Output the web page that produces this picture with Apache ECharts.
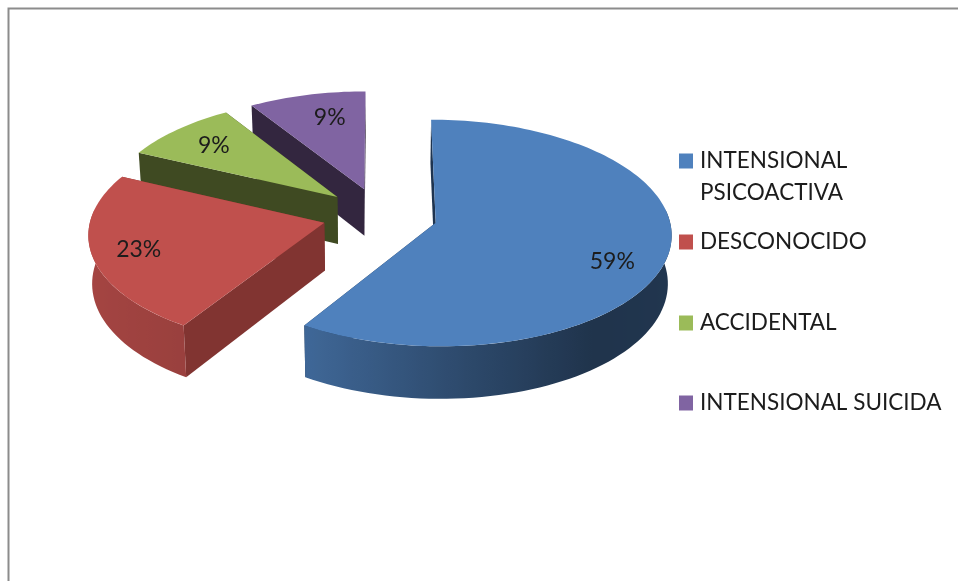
<!DOCTYPE html>
<html>
<head>
<meta charset="utf-8">
<style>html,body{margin:0;padding:0;background:#fff}#c{width:958px;height:581px}</style>
<script src="https://cdn.jsdelivr.net/npm/echarts@6/dist/echarts.min.js"></script>
</head>
<body>
<div id="c"></div>
<script>
const categories = ['INTENSIONAL\nPSICOACTIVA', 'DESCONOCIDO', 'ACCIDENTAL', 'INTENSIONAL SUICIDA'];
const values = [59, 23, 9, 9];
const colors = ['#4f81bd', '#c0504d', '#9bbb59', '#8064a2'];
const wallColors = ['#1e3450', '#813431', '#3f4a22', '#33263f'];
const labelShift = [[1, 15], [-10, 3], [0, 0], [10, 1]];

const total = values.reduce((a, b) => a + b, 0);
const CX = 380, CY = 215, RX = 233, RY = 111, DEPTH = 47.5, EXPLODE = 0.2475, PERSP = 0.09, LABEL_R = 0.76, BOTTOM_SCALE = 0.987;

function sliceAngles(i) {
  const before = values.slice(0, i).reduce((a, b) => a + b, 0);
  return [before / total * 2 * Math.PI, (before + values[i]) / total * 2 * Math.PI];
}
// unit-disc point (r, theta) of slice i, projected on the top (down=0) or bottom (down=1) plane
function project(i, r, th, down) {
  const [a0, a1] = sliceAngles(i);
  const b = (a0 + a1) / 2;
  const u = r * Math.sin(th) + EXPLODE * Math.sin(b);
  const v = -r * Math.cos(th) - EXPLODE * Math.cos(b);
  const s = 1 / (1 - PERSP * v);
  const k = down ? BOTTOM_SCALE : 1;
  return [CX + RX * u * s * k, CY + RY * v * s + (down ? DEPTH * s : 0)];
}
function shade(hex, f) {
  const n = parseInt(hex.slice(1), 16);
  const c = [n >> 16, (n >> 8) & 255, n & 255].map(x => Math.round(x * f));
  return 'rgb(' + c.join(',') + ')';
}
function sideShade(th) {
  const n = Math.sin(th);
  const pts = [[-1, .86], [-.53, .8], [0, .6], [.6, .4], [1, .42]];
  for (let k = 1; k < pts.length; k++) {
    if (n <= pts[k][0]) {
      const t = (n - pts[k - 1][0]) / (pts[k][0] - pts[k - 1][0]);
      return pts[k - 1][1] + t * (pts[k][1] - pts[k - 1][1]);
    }
  }
  return .42;
}
function renderSlice(i) {
  const [a0, a1] = sliceAngles(i);
  const children = [];
  const wall = (th) => ({
    type: 'polygon',
    shape: { points: [project(i, 0, th, 0), project(i, 1, th, 0), project(i, 1, th, 1), project(i, 0, th, 1)] },
    style: { fill: wallColors[i] }
  });
  children.push(wall(a1), wall(a0));

  // outer rim: one polygon over its front part, shaded by a horizontal gradient
  const t0 = Math.max(a0, Math.PI / 2 - 0.12), t1 = Math.min(a1, 3 * Math.PI / 2 + 0.12);
  if (t1 > t0) {
    const n = Math.ceil((t1 - t0) / (Math.PI / 90));
    const upper = [], lower = [], samples = [];
    for (let k = 0; k <= n; k++) {
      const th = t0 + (t1 - t0) * k / n;
      upper.push(project(i, 1, th, 0));
      lower.push(project(i, 1, th, 1));
      if (th >= Math.PI / 2 && th <= 3 * Math.PI / 2) samples.push([project(i, 1, th, 0)[0], sideShade(th)]);
    }
    const xs = upper.concat(lower).map(p => p[0]);
    const xMin = Math.min(...xs), xMax = Math.max(...xs);
    samples.sort((a, b) => a[0] - b[0]);
    const colorStops = samples.map(([x, f]) => ({ offset: (x - xMin) / (xMax - xMin), color: shade(colors[i], f) }));
    children.push({
      type: 'polygon',
      shape: { points: upper.concat(lower.reverse()) },
      style: { fill: new echarts.graphic.LinearGradient(xMin, 0, xMax, 0, colorStops, true) }
    });
  }

  const steps = Math.ceil((a1 - a0) / (Math.PI / 120));
  const top = [project(i, 0, a0, 0)];
  for (let k = 0; k <= steps; k++) top.push(project(i, 1, a0 + (a1 - a0) * k / steps, 0));
  children.push({ type: 'polygon', shape: { points: top }, style: { fill: colors[i] } });

  const lp = project(i, LABEL_R, (a0 + a1) / 2, 0);
  children.push({
    type: 'text',
    style: {
      x: lp[0] + labelShift[i][0], y: lp[1] + labelShift[i][1], text: values[i] + '%',
      fill: '#1c1c1c', font: '23px Lato', textAlign: 'center', textVerticalAlign: 'middle'
    }
  });
  return { type: 'group', children };
}

const order = [3, 2, 1, 0];
const series = order.map(i => ({
  type: 'custom',
  name: categories[i],
  coordinateSystem: 'none',
  itemStyle: { color: colors[i] },
  data: [[values[i]]],
  renderItem: () => renderSlice(i)
}));
const legendTops = [108, 221, 302, 382];
const legend = categories.map((name, i) => ({
  data: [{ name, icon: 'rect' }],
  left: 674,
  top: legendTops[i],
  itemWidth: 14,
  itemHeight: 15,
  itemGap: 0,
  selectedMode: false,
  formatter: n => n.includes('\n') ? '\n' + n : n,
  textStyle: { fontFamily: 'Lato', fontSize: 22.5, color: '#1c1c1c', lineHeight: 32, padding: [0, 0, 0, 2] }
}));

const chart = echarts.init(document.getElementById('c'), null, { renderer: 'canvas' });
chart.setOption({
  animation: false,
  backgroundColor: '#fff',
  legend,
  graphic: [{
    type: 'rect', left: 6, top: 6, z: -1,
    shape: { width: 1100, height: 800 },
    style: { fill: 'none', stroke: '#8c8c8c', lineWidth: 2 }
  }],
  series
});
</script>
</body>
</html>
